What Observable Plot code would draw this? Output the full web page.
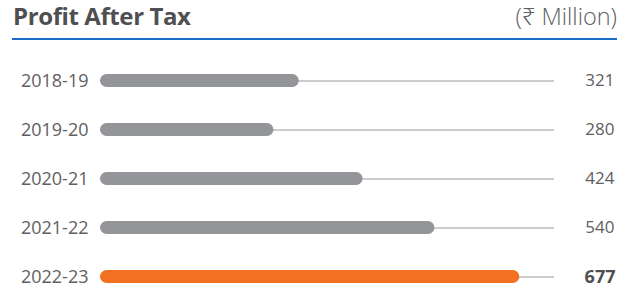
<!DOCTYPE html>
<html>
<head>
<meta charset="utf-8">
<script src="https://cdn.jsdelivr.net/npm/d3@7"></script>
<script src="https://cdn.jsdelivr.net/npm/@observablehq/plot@0.6"></script>
<style>
  html, body { margin: 0; padding: 0; background: #fff; }
  #wrap { position: relative; width: 634px; height: 292px; overflow: hidden; font-family: "Open Sans", "Noto Sans", sans-serif; }
  #title { position: absolute; left: 13px; top: -1px; font-size: 24px; font-weight: 700; color: #4f4f51; letter-spacing: -0.4px; line-height: 34px; }
  #unit { position: absolute; right: 17px; top: -1px; font-size: 23.5px; font-weight: 300; color: #5f6062; line-height: 34px; }
  #rule { position: absolute; left: 12px; width: 605px; top: 38px; height: 2px; background: #1a6dc5; }
  #chart { position: absolute; left: 0; top: 40px; }
</style>
</head>
<body>
<div id="wrap">
  <div id="title">Profit After Tax</div>
  <div id="unit">(₹ Million)</div>
  <div id="rule"></div>
  <div id="chart"></div>
</div>
<script>
const years = ["2018-19", "2019-20", "2020-21", "2021-22", "2022-23"];
const profits = [321, 280, 424, 540, 677];
const highlightYear = "2022-23";
const xMax = 733;

const data = years.map((year, i) => ({year, value: profits[i]}));
const isHi = d => d.year === highlightYear;

const gray = "#939598";
const orange = "#f37021";
const textColor = "#5f6062";

const chart = Plot.plot({
  width: 634,
  height: 252,
  marginLeft: 100,
  marginRight: 80,
  marginTop: 34,
  marginBottom: 9,
  style: { fontFamily: "'Open Sans', 'Noto Sans', sans-serif", color: textColor, background: "transparent" },
  x: { domain: [0, xMax], axis: null },
  y: { domain: years, paddingInner: 36 / 49, paddingOuter: 0, align: 0.5, label: null },
  marks: [
    Plot.ruleY(data, { y: "year", stroke: "#9a9a9c", strokeWidth: 1 }),
    Plot.barX(data, {
      x: "value",
      y: "year",
      fill: d => isHi(d) ? orange : gray,
      rx: 6.5
    }),
    Plot.axisY({ tickSize: 0, tickPadding: 12, fontSize: 18, fill: textColor, label: null }),
    Plot.text(data.filter(d => !isHi(d)), {
      y: "year",
      text: d => String(d.value),
      frameAnchor: "right",
      textAnchor: "end",
      dx: 60,
      fontSize: 17,
      fill: textColor
    }),
    Plot.text(data.filter(isHi), {
      y: "year",
      text: d => String(d.value),
      frameAnchor: "right",
      textAnchor: "end",
      dx: 61,
      fontSize: 18,
      fontWeight: 700,
      fill: "#4f4f51"
    })
  ]
});
document.getElementById("chart").appendChild(chart);
</script>
</body>
</html>
